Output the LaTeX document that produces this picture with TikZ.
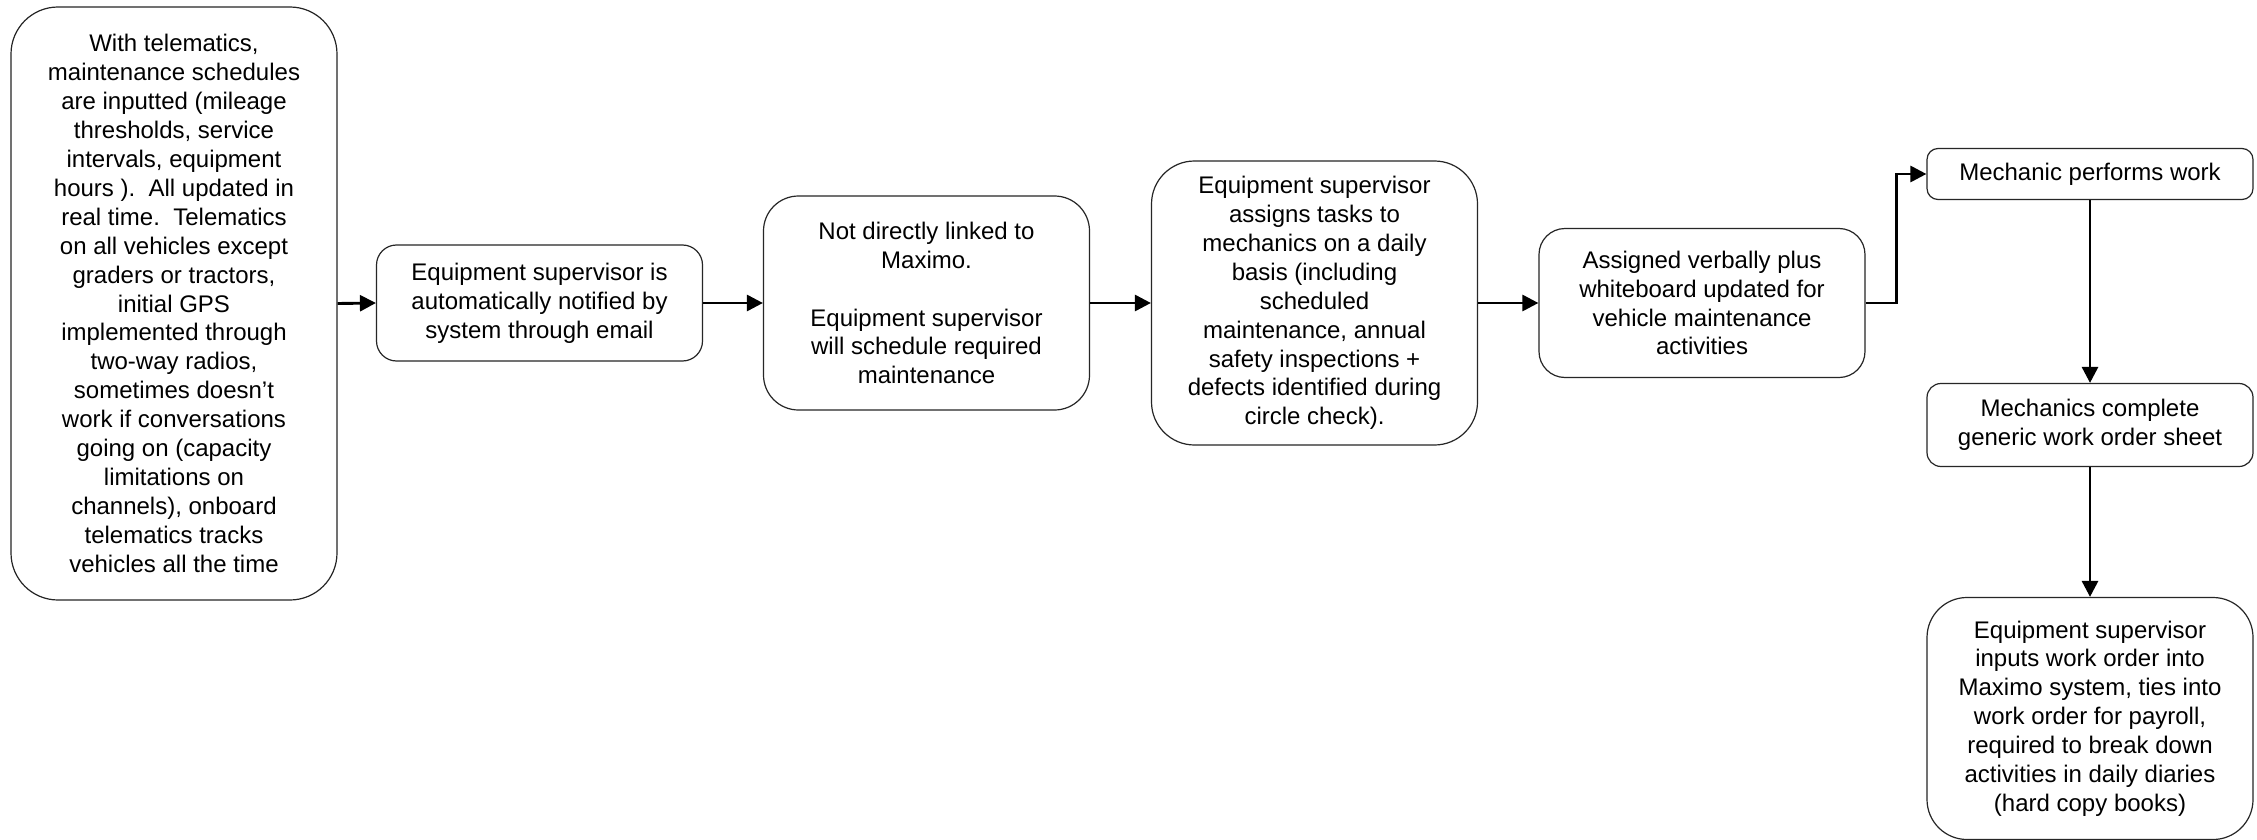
\documentclass[tikz,border=0pt]{standalone}
\usepackage{fontspec}
\setmainfont{Liberation Sans}
\usetikzlibrary{arrows.meta}
\frenchspacing
\begin{document}
\begin{tikzpicture}[x=1pt,y=-1pt,
  box/.style={draw=black!85, line width=1.2pt, fill=white, align=center,
    inner sep=0pt, minimum width=326pt,
    font=\fontsize{24}{28.9}\selectfont},
  flow/.style={line width=2.9pt, draw=black,
    -{Triangle[length=16pt,width=16pt]}},
]
\useasboundingbox[fill=white] (0,0) rectangle (2257,840);

% process steps, left to right
\node[box, minimum height=593pt, rounded corners=47pt] (b1) at (174,303.5)
  {With telematics,\\ maintenance schedules\\ are inputted (mileage\\
   thresholds, service\\ intervals, equipment\\ hours ).~~All updated in\\
   real time.~~Telematics\\ on all vehicles except\\ graders or tractors,\\
   initial GPS\\ implemented through\\ two-way radios,\\ sometimes doesn’t\\
   work if conversations\\ going on (capacity\\ limitations on\\
   channels), onboard\\ telematics tracks\\ vehicles all the time};

\node[box, minimum height=116pt, rounded corners=20pt] (b2) at (539.5,303)
  {Equipment supervisor is\\ automatically notified by\\ system through email};

\node[box, minimum height=214pt, rounded corners=35pt] (b3) at (926.5,303)
  {Not directly linked to\\ Maximo.\\[28.9pt] Equipment supervisor\\
   will schedule required\\ maintenance};

\node[box, minimum height=284pt, rounded corners=43pt] (b4) at (1314.5,303)
  {Equipment supervisor\\ assigns tasks to\\ mechanics on a daily\\
   basis (including\\ scheduled\\ maintenance, annual\\
   safety inspections +\\ defects identified during\\ circle check).};

\node[box, minimum height=149pt, rounded corners=26pt] (b5) at (1702,303)
  {Assigned verbally plus\\ whiteboard updated for\\ vehicle maintenance\\ activities};

% right-hand column, top to bottom
\node[box, minimum height=51pt, rounded corners=11pt] (b6) at (2090,174)
  {Mechanic performs work};

\node[box, minimum height=83pt, rounded corners=14pt] (b7) at (2090,425)
  {Mechanics complete\\ generic work order sheet};

\node[box, minimum height=242pt, rounded corners=40pt] (b8) at (2090,718.5)
  {Equipment supervisor\\ inputs work order into\\ Maximo system, ties into\\
   work order for payroll,\\ required to break down\\
   activities in daily diaries\\ (hard copy books)};

% connectors
\draw[flow] (b1.east) -- (b2.west);
\draw[flow] (b2.east) -- (b3.west);
\draw[flow] (b3.east) -- (b4.west);
\draw[flow] (b4.east) -- (b5.west);
\draw[flow] (b5.east) -- ++(31,0) |- (b6.west);
\draw[flow] (b6.south) -- (b7.north);
\draw[flow] (b7.south) -- (b8.north);
\end{tikzpicture}
\end{document}
